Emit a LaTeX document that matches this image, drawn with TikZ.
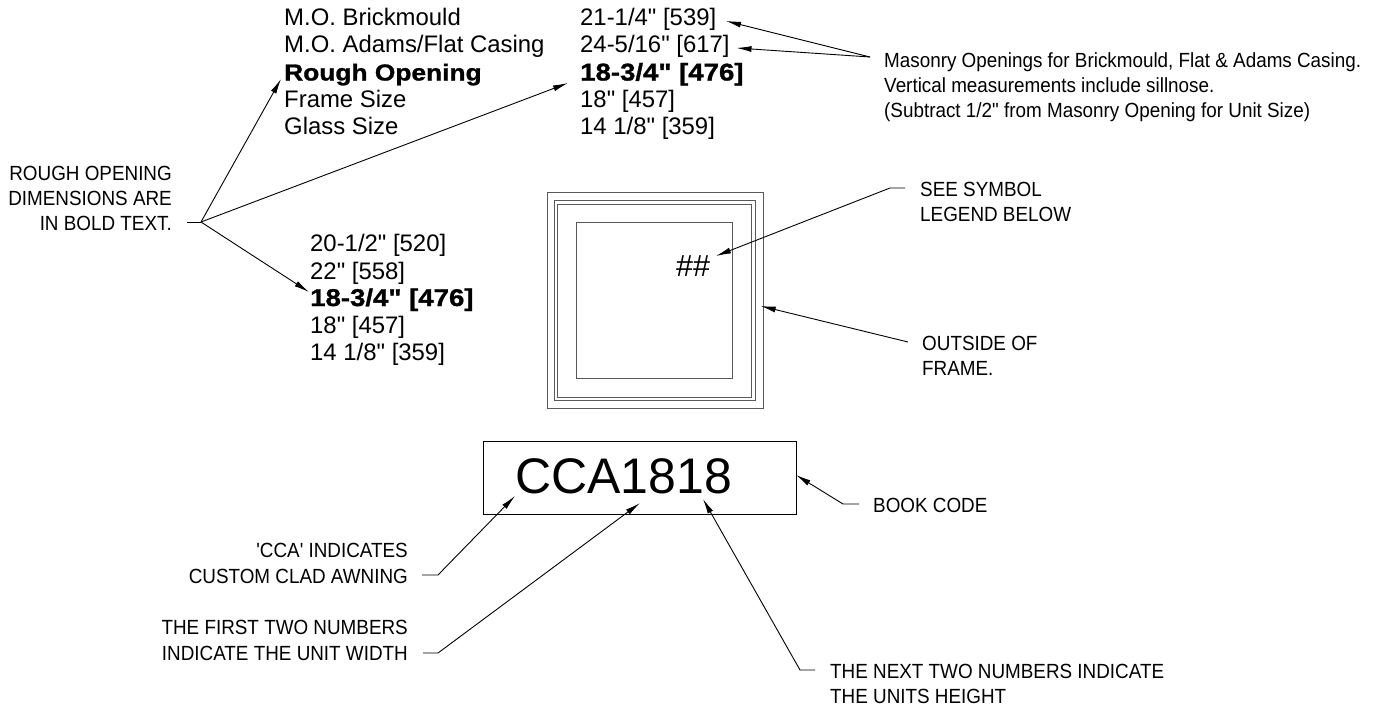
\documentclass[tikz,border=0pt]{standalone}
\usepackage{fontspec}
\setmainfont{Liberation Sans}[Ligatures=TeXOff]
\usetikzlibrary{arrows.meta}
\newfontfamily\heavyfamily{Liberation Sans Bold}[Ligatures=TeXOff,FakeBold=1.2,FakeStretch=1.14]
\newfontfamily\notefamily{Liberation Sans}[Ligatures=TeXOff,FakeStretch=.92]
\newcommand{\listfont}{\fontsize{23.9}{27}\selectfont}
\newcommand{\heavyfont}{\heavyfamily\fontsize{24.2}{27}\selectfont}
\newcommand{\notefont}{\notefamily\fontsize{20.5}{25}\selectfont}
\tikzset{
    listtext/.style={anchor=base west, inner sep=0pt, font=\listfont},
    boldtext/.style={anchor=base west, inner sep=0pt, font=\heavyfont},
    noteleft/.style={anchor=base west, inner sep=0pt, font=\notefont},
    noteright/.style={anchor=base east, inner sep=0pt, font=\notefont},
    leader/.style={->, line width=.9pt},
    framebox/.style={draw=black!65, line width=1pt, inner sep=0pt}
}
\begin{document}
\begin{tikzpicture}[x=1pt, y=-1pt, >={Latex[length=15pt,width=6pt]}]
\useasboundingbox (0,0) rectangle (1376,707);

% top table
\node[listtext] (brick) at (284,25) {M.O. Brickmould};
\node[listtext] (adams) at (284,52.5) {M.O. Adams/Flat Casing};
\node[boldtext, font=\heavyfamily\fontsize{23.1}{27}\selectfont] (rough) at (284,80.5) {Rough Opening};
\node[listtext] (frame) at (284,107.5) {Frame Size};
\node[listtext] (glass) at (284,134.5) {Glass Size};
\node[listtext] (brickval) at (580,25) {21-1/4" [539]};
\node[listtext] (adamsval) at (580,52.5) {24-5/16" [617]};
\node[boldtext] (roughval) at (580,80.5) {18-3/4" [476]};
\node[listtext] (frameval) at (580,107.5) {18" [457]};
\node[listtext] (glassval) at (580,134.5) {14 1/8" [359]};

% table beside the frame
\node[listtext] (moone) at (310,251.5) {20-1/2" [520]};
\node[listtext] (motwo) at (310,279) {22" [558]};
\node[boldtext] (roval) at (310,306) {18-3/4" [476]};
\node[listtext] (frval) at (310,333) {18" [457]};
\node[listtext] (glval) at (310,360) {14 1/8" [359]};

% frame
\node[framebox, minimum width=216pt, minimum height=216pt] (outerframe) at (655,300.7) {};
\node[framebox, minimum width=201pt, minimum height=200.3pt] (midframe) at (654.8,300.8) {};
\node[framebox, minimum width=193.7pt, minimum height=193.4pt] (innerframe) at (654.8,301) {};
\node[framebox, minimum width=156.3pt, minimum height=156.3pt] (glassframe) at (654.8,300.8) {};
\node[anchor=base west, inner sep=0pt, font=\fontsize{30.5}{30}\selectfont] (mark) at (676,276) {\#\#};

% code box
\node[draw, line width=.9pt, minimum width=312.5pt, minimum height=73.3pt] (codebox) at (639.8,477.7) {};
\node[anchor=base west, inner sep=0pt, font=\fontsize{50}{50}\selectfont] (code) at (515,493) {CCA1818};

% notes
\node[noteright] (notea) at (172,180) {ROUGH OPENING};
\node[noteright] (noteb) at (172,205) {DIMENSIONS ARE};
\node[noteright] (notec) at (172,230) {IN BOLD TEXT.};
\node[noteleft] (masa) at (884,67.5) {Masonry Openings for Brickmould, Flat \& Adams Casing.};
\node[noteleft] (masb) at (884,92) {Vertical measurements include sillnose.};
\node[noteleft] (masc) at (884,117) {(Subtract 1/2" from Masonry Opening for Unit Size)};
\node[noteleft] (seea) at (920,196) {SEE SYMBOL};
\node[noteleft] (seeb) at (920,221.5) {LEGEND BELOW};
\node[noteleft] (outa) at (922,350) {OUTSIDE OF};
\node[noteleft] (outb) at (922,375) {FRAME.};
\node[noteleft] (book) at (873,512) {BOOK CODE};
\node[noteright] (ccaa) at (408,557) {'CCA' INDICATES};
\node[noteright] (ccab) at (408,583) {CUSTOM CLAD AWNING};
\node[noteright] (firsta) at (408,634) {THE FIRST TWO NUMBERS};
\node[noteright] (firstb) at (408,660) {INDICATE THE UNIT WIDTH};
\node[noteleft] (nexta) at (830,678) {THE NEXT TWO NUMBERS INDICATE};
\node[noteleft] (nextb) at (830,703) {THE UNITS HEIGHT};

% leader ends
\coordinate (roughstub) at (187,222);
\coordinate (roughknee) at (201,222);
\coordinate (roughtip) at (281,79);
\coordinate (roughvaltip) at (568,83);
\coordinate (rovaltip) at (309,292);
\coordinate (masknee) at (870,57);
\coordinate (bricktip) at (726,21);
\coordinate (adamstip) at (736.5,48);
\coordinate (seestub) at (905,188);
\coordinate (seeknee) at (890,188);
\coordinate (marktip) at (716,256);
\coordinate (outstart) at (908,342);
\coordinate (outtip) at (760.7,306);
\coordinate (bookstub) at (859,504);
\coordinate (bookknee) at (843,504);
\coordinate (booktip) at (796,475);
\coordinate (ccastub) at (422,575);
\coordinate (ccaknee) at (438,575);
\coordinate (ccatip) at (515,496);
\coordinate (firststub) at (423,653);
\coordinate (firstknee) at (438,653);
\coordinate (firsttip) at (640,503);
\coordinate (nextstub) at (815,670);
\coordinate (nextknee) at (800,670);
\coordinate (nexttip) at (703,499);

\draw[line width=.9pt] (roughstub)--(roughknee);
\draw[leader] (roughknee)--(roughtip);
\draw[leader] (roughknee)--(roughvaltip);
\draw[leader] (roughknee)--(rovaltip);
\draw[leader] (masknee)--(bricktip);
\draw[leader] (masknee)--(adamstip);
\draw[leader] (seestub)--(seeknee)--(marktip);
\draw[leader] (outstart)--(outtip);
\draw[leader] (bookstub)--(bookknee)--(booktip);
\draw[leader] (ccastub)--(ccaknee)--(ccatip);
\draw[leader] (firststub)--(firstknee)--(firsttip);
\draw[leader] (nextstub)--(nextknee)--(nexttip);

\end{tikzpicture}
\end{document}
